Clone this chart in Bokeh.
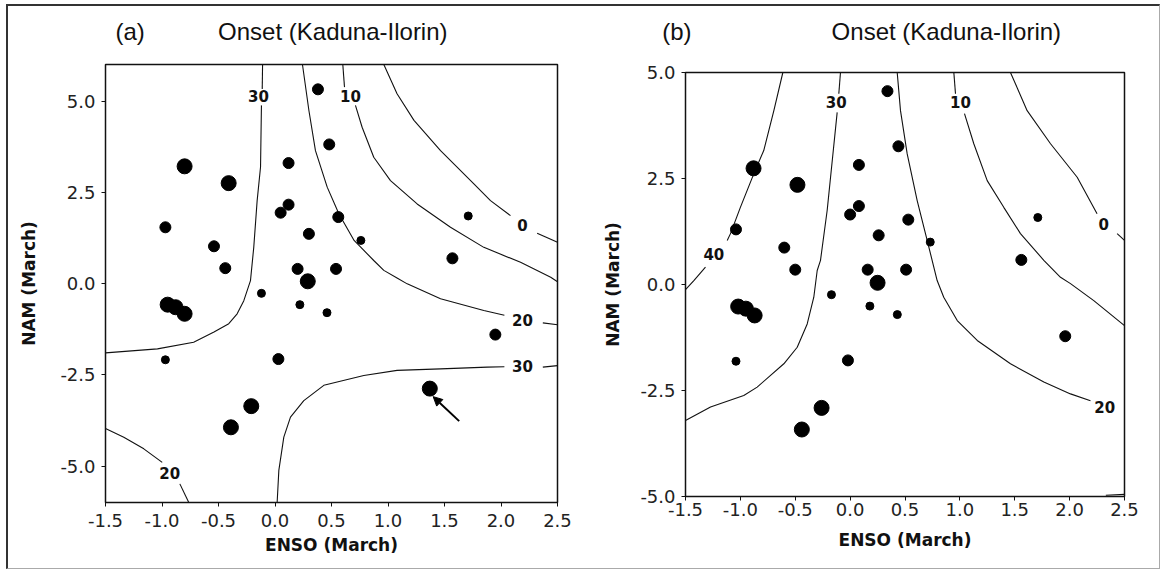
from bokeh.plotting import figure
from bokeh.models import (Row, Column, Spacer, Arrow, NormalHead, FixedTicker, LinearAxis,
                          PrintfTickFormatter, ColumnDataSource, Range1d)
from bokeh.embed import file_html
from bokeh.resources import INLINE
from bokeh.core.properties import value

# ---------------- data ----------------
x_ticks = [-1.5, -1.0, -0.5, 0.0, 0.5, 1.0, 1.5, 2.0, 2.5]
y_ticks = [-5.0, -2.5, 0.0, 2.5, 5.0]
x_label = "ENSO (March)"
y_label = "NAM (March)"
title_text = "Onset (Kaduna-Ilorin)"
panel_tags = ["(a)", "(b)"]

# panel (a) points
enso_a = [0.38, 0.48, 0.12, -0.80, -0.41, 0.12, 0.05, 0.56, -0.97, 1.71,
          0.30, 0.76, -0.54, 1.57, -0.44, 0.20, 0.54, 0.29, -0.12, 0.22,
          0.46, -0.95, -0.88, -0.80, 1.95, -0.97, 0.03, 1.37, -0.21, -0.39]
nam_a = [5.32, 3.81, 3.30, 3.21, 2.75, 2.16, 1.94, 1.82, 1.54, 1.85,
         1.36, 1.18, 1.02, 0.69, 0.42, 0.40, 0.40, 0.06, -0.27, -0.58,
         -0.80, -0.58, -0.65, -0.83, -1.40, -2.09, -2.07, -2.88, -3.36, -3.94]
cls_a = [2, 2, 2, 3, 3, 2, 2, 2, 2, 1,
         2, 1, 2, 2, 2, 2, 2, 3, 1, 1,
         1, 3, 3, 3, 2, 1, 2, 3, 3, 3]

# panel (b) points
enso_b = [0.34, 0.44, 0.08, -0.88, -0.48, 0.08, 0.00, 0.53, -1.04, 1.71,
          0.26, 0.73, -0.60, 1.56, -0.50, 0.16, 0.51, 0.25, -0.17, 0.18,
          0.43, -1.02, -0.95, -0.87, 1.96, -1.04, -0.02, -0.26, -0.44]
nam_b = [4.56, 3.26, 2.82, 2.74, 2.35, 1.85, 1.65, 1.53, 1.30, 1.58,
         1.16, 1.00, 0.87, 0.58, 0.35, 0.35, 0.35, 0.04, -0.24, -0.51,
         -0.71, -0.52, -0.57, -0.73, -1.22, -1.81, -1.79, -2.91, -3.42]
cls_b = [2, 2, 2, 3, 3, 2, 2, 2, 2, 1,
         2, 1, 2, 2, 2, 2, 2, 3, 1, 1,
         1, 3, 3, 3, 2, 1, 2, 3, 3]

# contour line pieces, panel (a)
cont_a_x = [
    [-0.11, -0.113],
    [-0.12, -0.128, -0.158, -0.188, -0.217, -0.276, -0.335, -0.409, -0.54, -0.72, -1.04, -1.5],
    [0.243, 0.30, 0.358, 0.462, 0.565, 0.70, 0.874, 0.963, 1.08, 1.17, 1.465, 1.848, 2.03],
    [2.37, 2.5],
    [0.60, 0.615],
    [0.712, 0.771, 0.874, 1.022, 1.258, 1.553, 1.848, 2.173, 2.44, 2.5],
    [0.963, 1.08, 1.23, 1.465, 1.76, 1.907, 2.084],
    [2.32, 2.5],
    [0.019, 0.034, 0.078, 0.137, 0.255, 0.432, 0.786, 1.08, 1.465, 1.878, 2.03],
    [2.37, 2.5],
    [-1.5, -1.338, -1.161, -0.998],
    [-0.842, -0.763],
]
cont_a_y = [
    [6.0, 5.33],
    [4.88, 3.19, 2.27, 0.99, 0.08, -0.47, -0.83, -1.10, -1.33, -1.61, -1.79, -1.90],
    [6.0, 4.74, 3.64, 2.64, 1.91, 1.18, 0.63, 0.36, 0.15, -0.01, -0.42, -0.74, -0.87],
    [-1.08, -1.13],
    [6.0, 5.38],
    [4.88, 4.28, 3.46, 2.82, 2.18, 1.54, 0.99, 0.58, 0.17, 0.05],
    [6.0, 5.2, 4.47, 3.64, 2.73, 2.27, 1.86],
    [1.38, 1.13],
    [-6.0, -5.12, -4.21, -3.66, -3.21, -2.79, -2.52, -2.38, -2.34, -2.29, -2.28],
    [-2.29, -2.25],
    [-3.97, -4.21, -4.53, -4.90],
    [-5.49, -6.0],
]
lab_a_x = [-0.146, 0.668, 2.19, 2.19, 2.19, -0.931]
lab_a_y = [5.13, 5.13, 1.59, -1.01, -2.27, -5.19]
lab_a_t = ["30", "10", "0", "20", "30", "20"]
arrow_a = (1.63, -3.77, 1.40, -3.10)

# contour line pieces, panel (b)
cont_b_x = [
    [-0.613, -0.695, -0.787, -0.878, -1.0, -1.09, -1.12],
    [-1.318, -1.424, -1.5],
    [-0.088, -0.103],
    [-0.118, -0.163, -0.209, -0.27, -0.30, -0.331, -0.391, -0.482, -0.604, -0.847, -0.969, -1.272, -1.5],
    [0.429, 0.459, 0.52, 0.611, 0.702, 0.793, 0.853, 0.976, 1.158, 1.461, 1.765, 2.008, 2.19],
    [0.945, 0.96],
    [1.042, 1.127, 1.249, 1.40, 1.552, 1.765, 1.917, 2.008, 2.22, 2.5],
    [1.461, 1.613, 1.826, 2.069, 2.25],
    [2.433, 2.5],
    [2.33, 2.5],
]
cont_b_y = [
    [5.0, 4.10, 3.16, 2.61, 1.82, 1.20, 1.04],
    [0.41, 0.094, -0.12],
    [5.0, 4.50],
    [4.06, 2.92, 1.75, 0.57, 0.33, -0.30, -0.93, -1.48, -1.87, -2.42, -2.62, -2.89, -3.21],
    [5.0, 4.10, 3.08, 1.98, 1.04, 0.094, -0.30, -0.85, -1.32, -1.87, -2.30, -2.58, -2.74],
    [5.0, 4.50],
    [4.03, 3.32, 2.45, 1.82, 1.20, 0.57, 0.17, 0.02, -0.38, -0.97],
    [5.0, 4.10, 3.32, 2.53, 1.67],
    [1.20, 1.04],
    [-4.97, -4.95],
]
lab_b_x = [-1.242, -0.127, 1.006, 2.31, 2.32]
lab_b_y = [0.72, 4.30, 4.30, 1.43, -2.88]
lab_b_t = ["40", "30", "10", "0", "20"]

SIZE = {1: 8, 2: 11, 3: 15}
NBSP = "\u00a0"


def make_panel(tag, gap_l, gap_r, enso, nam, cls, cx, cy, lx, ly, lt, yrange,
               fw, fh, b_left, b_right, b_top, b_bottom,
               tick_standoff, label_standoff, ylabel_standoff, title_standoff, arrow=None):
    p = figure(frame_width=fw, frame_height=fh,
               x_range=Range1d(-1.5, 2.5), y_range=Range1d(*yrange),
               output_backend="svg", toolbar_location=None,
               min_border_left=b_left, min_border_right=b_right,
               min_border_top=b_top, min_border_bottom=b_bottom)
    p.grid.visible = False
    p.outline_line_color = "#111111"
    p.outline_line_width = 1.5
    p.background_fill_color = "white"
    p.border_fill_color = "white"

    xax = p.below[0]
    yax = p.left[0]
    for ax, ticks, lab in ((xax, x_ticks, x_label), (yax, y_ticks, y_label)):
        ax.ticker = FixedTicker(ticks=ticks)
        ax.formatter = PrintfTickFormatter(format="%.1f")
        ax.axis_label = lab
        ax.axis_label_text_font = "DejaVu Sans"
        ax.axis_label_text_font_style = "bold"
        ax.axis_label_text_font_size = "17px"
        ax.axis_label_text_color = "#111111"
        ax.major_label_text_font = "DejaVu Sans"
        ax.major_label_text_font_size = "18px"
        ax.major_label_text_color = "#222222"
        ax.axis_line_color = "#111111"
        ax.major_tick_line_color = "#111111"
        ax.major_tick_in = 0
        ax.major_tick_out = 4
        ax.minor_tick_line_color = None
    xax.major_label_standoff = tick_standoff
    xax.axis_label_standoff = label_standoff
    yax.major_label_standoff = 6
    yax.axis_label_standoff = ylabel_standoff

    # heading drawn as the label of a bare axis above the frame
    tax = LinearAxis(ticker=FixedTicker(ticks=[]), axis_line_color=None,
                     major_tick_line_color=None, minor_tick_line_color=None,
                     major_tick_in=0, major_tick_out=0,
                     major_label_text_font_size="0px",
                     axis_label=tag + NBSP * gap_l + title_text + NBSP * gap_r,
                     axis_label_standoff=title_standoff,
                     axis_label_text_font="Liberation Sans",
                     axis_label_text_font_size="24px",
                     axis_label_text_font_style="normal",
                     axis_label_text_color="#111111")
    p.add_layout(tax, "above")

    p.multi_line(xs=cx, ys=cy, line_color="#111111", line_width=1.1)

    src = ColumnDataSource(dict(x=enso, y=nam, s=[SIZE[c] for c in cls]))
    p.scatter("x", "y", size="s", source=src, fill_color="black",
              line_color="black", marker="circle")

    p.text(x=lx, y=ly, text=lt, text_font=value("DejaVu Sans"),
           text_font_style="bold", text_font_size="15px",
           text_align="center", text_baseline="middle", text_color="#111111")

    if arrow is not None:
        p.add_layout(Arrow(end=NormalHead(size=9, fill_color="black", line_color="black"),
                           x_start=arrow[0], y_start=arrow[1],
                           x_end=arrow[2], y_end=arrow[3],
                           line_width=2, line_color="black"))
    return p


p1 = make_panel(panel_tags[0], 11, 15, enso_a, nam_a, cls_a, cont_a_x, cont_a_y,
                lab_a_x, lab_a_y, lab_a_t, (-6.0, 6.0),
                452, 438, 97, 33, 58, 66, 7, 5, 18, 20, arrow=arrow_a)
p2 = make_panel(panel_tags[1], 21, 13, enso_b, nam_b, cls_b, cont_b_x, cont_b_y,
                lab_b_x, lab_b_y, lab_b_t, (-5.0, 5.0),
                439, 424, 95, 35, 58, 66, 2, 11, 14, 28)

layout = Row(children=[p1, Column(children=[Spacer(height=8, width=10), p2], spacing=0)],
             spacing=0,
             styles={"margin-left": "6px", "margin-top": "4px",
                     "border-top": "2px solid #333333", "border-left": "2px solid #333333",
                     "border-bottom": "1px solid #aaaaaa", "border-right": "1px solid #aaaaaa"})

open("out.html", "w").write(file_html(layout, INLINE))
